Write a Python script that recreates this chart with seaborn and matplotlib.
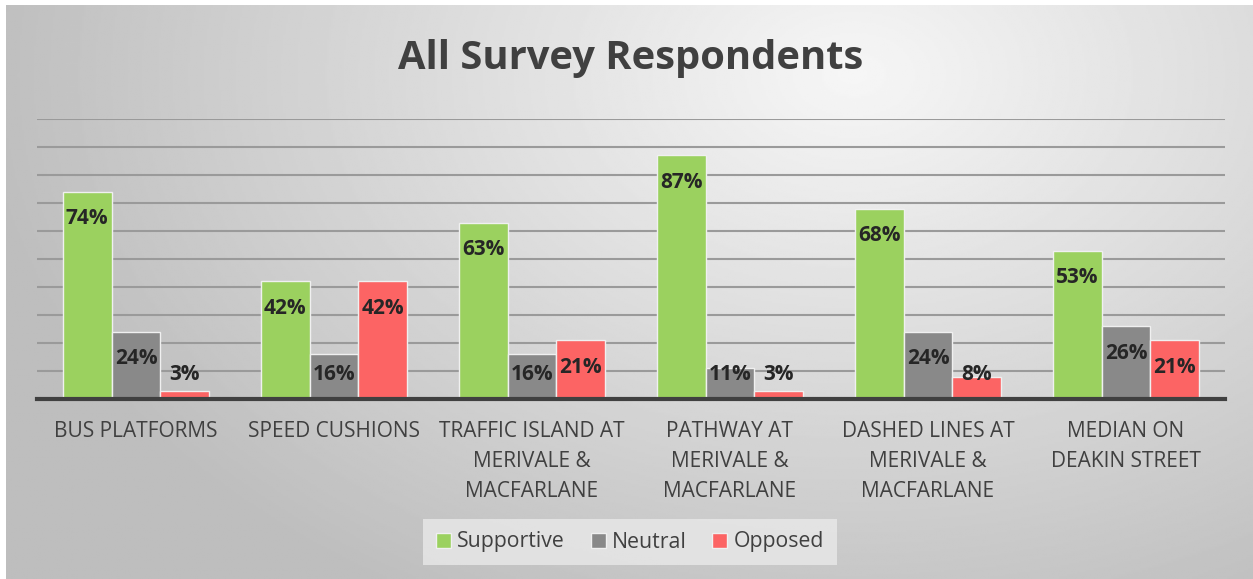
import matplotlib
matplotlib.use('Agg')
import matplotlib.pyplot as plt
import pandas as pd
import seaborn as sns
import numpy as np

# Chart data
categories = ['BUS PLATFORMS', 'SPEED CUSHIONS', 'TRAFFIC ISLAND AT\nMERIVALE &\nMACFARLANE',
              'PATHWAY AT\nMERIVALE &\nMACFARLANE', 'DASHED LINES AT\nMERIVALE &\nMACFARLANE',
              'MEDIAN ON\nDEAKIN STREET']
series = ['Supportive', 'Neutral', 'Opposed']
supportive = [74, 42, 63, 87, 68, 53]
neutral = [24, 16, 16, 11, 24, 26]
opposed = [3, 42, 21, 3, 8, 21]
colors = ['#9bd15f', '#898989', '#fc6464']

df = pd.DataFrame({
    'category': categories * 3,
    'response': [s for s in series for _ in categories],
    'value': supportive + neutral + opposed,
})

sns.set_theme(style='white')
plt.rcParams['font.family'] = ['Open Sans', 'DejaVu Sans']

W, H = 1253, 579
fig = plt.figure(figsize=(W / 100, H / 100), dpi=100)
fig.patch.set_facecolor('white')

# Radial gradient background
bg = fig.add_axes([6 / W, 0, (W - 6) / W, (H - 5) / H])
yy, xx = np.mgrid[0:1:300j, 0:1:600j]
d = np.sqrt(((xx - 0.68) / 0.7) ** 2 + ((yy - 0.12) / 1.05) ** 2)
v = 0.965 - 0.22 * np.clip(d, 0, 1)
bg.imshow(v, cmap='gray', vmin=0, vmax=1, aspect='auto', extent=[0, 1, 1, 0])
bg.set_axis_off()

ax = fig.add_axes([37 / W, 180 / H, 1188 / W, 280 / H])
ax.patch.set_alpha(0)
sns.barplot(data=df, x='category', y='value', hue='response', palette=colors,
            width=0.74, gap=0, saturation=1, edgecolor='#f0f0f0', linewidth=1.0,
            ax=ax, legend=False, zorder=3)

ax.set_ylim(0, 100)
ax.set_xlim(-0.5, len(categories) - 0.5)
ax.set_yticks(np.arange(10, 101, 10))
ax.yaxis.grid(True, color='#9a9a9a', linewidth=1.5, zorder=0)
ax.set_axisbelow(True)
ax.tick_params(axis='y', left=False, labelleft=False)
ax.tick_params(axis='x', length=0, pad=16, labelsize=15, labelcolor='#404040')
for lbl in ax.get_xticklabels():
    lbl.set_linespacing(1.55)
for s in ['top', 'right', 'left']:
    ax.spines[s].set_visible(False)
ax.spines['bottom'].set_color('#404040')
ax.spines['bottom'].set_linewidth(3)
ax.spines['bottom'].set_zorder(5)
ax.set_xlabel('')
ax.set_ylabel('')

# Data labels, inside end of each bar
for cont in ax.containers:
    for bar in cont:
        h = bar.get_height()
        y = max(h - 9.6, 8.6)
        ax.text(bar.get_x() + bar.get_width() / 2, y, f'{h:.0f}%', ha='center', va='center',
                fontsize=15, fontweight='bold', color='#262626', zorder=6)

fig.text(0.503, 1 - 58 / H, 'All Survey Respondents', ha='center', va='center',
         fontsize=28.7, fontweight='bold', color='#404040')

handles = [plt.Rectangle((0, 0), 1, 1, facecolor=c, edgecolor='#f0f0f0') for c in colors]
leg = fig.legend(handles, series, loc='center', bbox_to_anchor=(630 / W, 1 - 542 / H), ncol=3,
                 frameon=True, fontsize=15.3, handlelength=0.7, handleheight=0.7,
                 handletextpad=0.3, columnspacing=1.2, borderpad=0.6)
leg.get_frame().set_facecolor('#e9e9e9')
leg.get_frame().set_edgecolor('none')
leg.get_frame().set_boxstyle('square', pad=0)
for t in leg.get_texts():
    t.set_color('#404040')

fig.savefig('out.png', dpi=100)
